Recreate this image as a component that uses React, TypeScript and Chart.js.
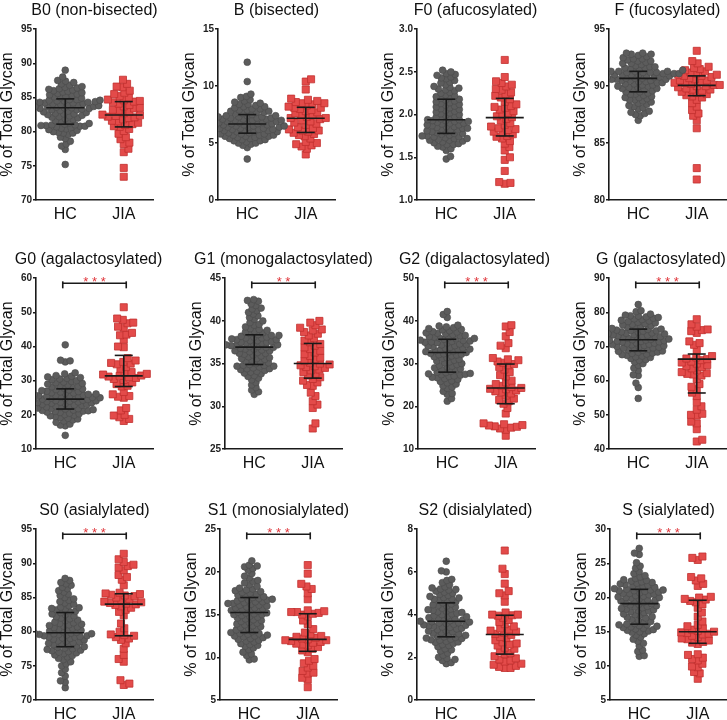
import React, { useEffect, useRef } from "react";
import { Chart, registerables } from "chart.js";
Chart.register(...registerables);

const FONT = "'Liberation Sans', Arial, Helvetica, sans-serif";
Chart.defaults.font.family = FONT;

const GROUPS = ["HC", "JIA"];
const TITLES = [
  "B0 (non-bisected)", "B (bisected)", "F0 (afucosylated)", "F (fucosylated)",
  "G0 (agalactosylated)", "G1 (monogalactosylated)", "G2 (digalactosylated)", "G (galactosylated)",
  "S0 (asialylated)", "S1 (monosialylated)", "S2 (disialylated)", "S (sialylated)",
];
const Y_MIN = [70, 0, 1.0, 80, 10, 25, 10, 40, 70, 5, 0, 5];
const Y_MAX = [95, 15, 3.0, 95, 60, 45, 50, 90, 95, 25, 8, 30];
const Y_STEP = [5, 5, 0.5, 5, 10, 5, 10, 10, 5, 5, 2, 5];
const Y_DEC = [0, 0, 1, 0, 0, 0, 0, 0, 0, 0, 0, 0];
const SIG = ["", "", "", "", "***", "**", "***", "***", "***", "***", "", "***"];

// [Q1, median, Q3]
const HC_STATS = [
  [81.1, 83.5, 84.8], [5.87, 6.68, 7.5], [1.78, 1.94, 2.18], [89.5, 90.68, 91.3],
  [21.7, 24.6, 27.6], [34.9, 36.93, 38.37], [28.0, 32.6, 35.7], [68.75, 71.97, 75.1],
  [77.8, 79.84, 82.8], [12.9, 15.25, 17.0], [2.96, 3.69, 4.55], [16.1, 19.1, 21.2],
];
const JIA_STATS = [
  [80.7, 82.45, 84.4], [5.93, 7.18, 8.14], [1.75, 1.965, 2.19], [89.16, 90.07, 90.9],
  [28.3, 31.4, 37.4], [33.3, 35.02, 37.36], [20.6, 24.27, 29.9], [56.4, 66.3, 67.8],
  [79.4, 84.03, 85.55], [10.7, 12.1, 15.1], [2.15, 3.07, 3.97], [13.3, 15.0, 19.6],
];

const B0_HC = [75.2, 77.4, 77.9, 78.2, 78.6, 79.0, 79.2, 79.6, 79.8, 79.8, 79.9, 80.0, 80.2, 80.3, 80.4, 80.5, 80.6, 80.7, 80.8, 80.8, 80.9, 80.9, 81.0, 81.0, 81.1,
  81.2, 81.3, 81.5, 81.6, 81.8, 81.9, 82.0, 82.1, 82.2, 82.3, 82.4, 82.5, 82.6, 82.6, 82.7, 82.8, 82.9, 83.0, 83.1, 83.2, 83.2, 83.3, 83.4, 83.4, 83.5,
  83.5, 83.6, 83.6, 83.7, 83.7, 83.8, 83.8, 83.9, 84.0, 84.0, 84.1, 84.1, 84.2, 84.2, 84.3, 84.3, 84.4, 84.4, 84.5, 84.5, 84.6, 84.6, 84.7, 84.7, 84.8,
  84.9, 85.0, 85.1, 85.2, 85.3, 85.4, 85.5, 85.6, 85.7, 85.8, 85.9, 86.0, 86.1, 86.2, 86.3, 86.4, 86.5, 86.6, 86.8, 87.0, 87.2, 87.4, 87.5, 88.0, 89.0];
const B0_JIA = [73.4, 74.7, 77.0, 77.5, 78.2, 78.4, 78.9, 79.2, 79.7, 80.1, 80.4, 80.7, 80.8, 81.0, 81.1, 81.3, 81.5, 81.6, 81.8, 82.0, 82.1, 82.2, 82.3, 82.4,
  82.5, 82.7, 82.9, 83.1, 83.2, 83.4, 83.5, 83.7, 83.9, 84.1, 84.3, 84.4, 84.5, 84.6, 84.7, 85.0, 85.2, 85.5, 85.7, 86.0, 86.5, 86.6, 87.0, 87.6];

const B_HC = [3.6, 4.6, 4.8, 4.9, 5.0, 5.0, 5.1, 5.2, 5.2, 5.3, 5.3, 5.4, 5.4, 5.5, 5.5, 5.6, 5.6, 5.6, 5.7, 5.7, 5.7, 5.8, 5.8, 5.8, 5.9,
  5.9, 6.0, 6.0, 6.0, 6.1, 6.1, 6.1, 6.2, 6.2, 6.2, 6.3, 6.3, 6.3, 6.4, 6.4, 6.4, 6.5, 6.5, 6.5, 6.5, 6.6, 6.6, 6.6, 6.7, 6.7,
  6.7, 6.7, 6.8, 6.8, 6.8, 6.9, 6.9, 6.9, 7.0, 7.0, 7.0, 7.0, 7.1, 7.1, 7.1, 7.2, 7.2, 7.2, 7.3, 7.3, 7.3, 7.4, 7.4, 7.4, 7.5,
  7.6, 7.6, 7.7, 7.7, 7.8, 7.8, 7.9, 7.9, 8.0, 8.0, 8.1, 8.2, 8.2, 8.3, 8.4, 8.4, 8.5, 8.6, 8.7, 8.8, 9.0, 9.1, 9.3, 10.4, 12.1];
const B_JIA = [4.0, 4.5, 4.7, 4.8, 4.9, 5.0, 5.1, 5.4, 5.6, 5.7, 5.8, 5.9, 6.0, 6.1, 6.1, 6.2, 6.3, 6.4, 6.6, 6.7, 6.8, 6.9, 7.0, 7.1,
  7.2, 7.2, 7.3, 7.4, 7.5, 7.6, 7.7, 7.8, 7.9, 8.0, 8.1, 8.1, 8.2, 8.3, 8.4, 8.5, 8.5, 8.6, 8.7, 8.8, 8.9, 9.7, 10.4, 10.6];

const F0_HC = [1.48, 1.51, 1.58, 1.60, 1.62, 1.63, 1.65, 1.65, 1.66, 1.67, 1.68, 1.69, 1.70, 1.70, 1.71, 1.72, 1.72, 1.73, 1.74, 1.74, 1.75, 1.75, 1.76, 1.77, 1.78,
  1.78, 1.79, 1.80, 1.80, 1.81, 1.82, 1.82, 1.83, 1.84, 1.84, 1.85, 1.86, 1.86, 1.87, 1.88, 1.88, 1.89, 1.90, 1.90, 1.91, 1.92, 1.92, 1.93, 1.93, 1.94,
  1.94, 1.95, 1.96, 1.97, 1.98, 1.99, 2.00, 2.01, 2.02, 2.03, 2.04, 2.05, 2.06, 2.07, 2.08, 2.09, 2.10, 2.11, 2.12, 2.13, 2.14, 2.15, 2.16, 2.17, 2.18,
  2.19, 2.20, 2.21, 2.22, 2.23, 2.25, 2.26, 2.28, 2.29, 2.30, 2.31, 2.32, 2.33, 2.35, 2.37, 2.38, 2.40, 2.42, 2.43, 2.44, 2.46, 2.47, 2.48, 2.50, 2.52];
const F0_JIA = [1.19, 1.20, 1.21, 1.34, 1.47, 1.50, 1.58, 1.62, 1.66, 1.69, 1.72, 1.74, 1.75, 1.77, 1.79, 1.80, 1.82, 1.83, 1.84, 1.86, 1.88, 1.90, 1.93, 1.95,
  1.97, 1.98, 2.00, 2.02, 2.04, 2.06, 2.08, 2.09, 2.10, 2.12, 2.15, 2.18, 2.20, 2.22, 2.24, 2.26, 2.29, 2.30, 2.33, 2.35, 2.37, 2.39, 2.44, 2.64];

const F_HC = [87.0, 87.4, 87.5, 87.6, 87.7, 87.8, 88.0, 88.1, 88.2, 88.3, 88.4, 88.5, 88.6, 88.7, 88.8, 88.8, 88.9, 89.0, 89.0, 89.1, 89.2, 89.3, 89.3, 89.4, 89.5,
  89.5, 89.6, 89.7, 89.7, 89.8, 89.8, 89.9, 89.9, 90.0, 90.0, 90.1, 90.1, 90.2, 90.2, 90.3, 90.3, 90.4, 90.4, 90.5, 90.5, 90.5, 90.6, 90.6, 90.6, 90.7,
  90.7, 90.7, 90.8, 90.8, 90.8, 90.9, 90.9, 90.9, 91.0, 91.0, 91.0, 91.0, 91.1, 91.1, 91.1, 91.1, 91.2, 91.2, 91.2, 91.2, 91.3, 91.3, 91.3, 91.3, 91.3,
  91.4, 91.4, 91.5, 91.5, 91.6, 91.6, 91.7, 91.7, 91.8, 91.9, 92.0, 92.0, 92.1, 92.2, 92.2, 92.3, 92.4, 92.4, 92.5, 92.6, 92.7, 92.8, 92.8, 92.9, 92.9];
const F_JIA = [81.8, 82.8, 86.3, 87.0, 87.4, 87.6, 87.9, 88.2, 88.5, 88.8, 89.0, 89.1, 89.2, 89.3, 89.4, 89.5, 89.6, 89.7, 89.7, 89.8, 89.9, 90.0, 90.0, 90.1,
  90.1, 90.2, 90.3, 90.3, 90.4, 90.5, 90.5, 90.6, 90.7, 90.8, 90.9, 90.9, 91.0, 91.0, 91.1, 91.2, 91.3, 91.4, 91.5, 91.6, 91.7, 92.0, 92.2, 93.1];

const G0_HC = [14.0, 16.8, 17.0, 17.3, 17.8, 18.2, 18.5, 18.8, 19.0, 19.2, 19.5, 19.7, 19.9, 20.1, 20.3, 20.5, 20.7, 20.8, 21.0, 21.1, 21.2, 21.3, 21.4, 21.5, 21.7,
  21.8, 21.9, 22.0, 22.2, 22.3, 22.5, 22.6, 22.8, 22.9, 23.0, 23.1, 23.3, 23.4, 23.5, 23.6, 23.7, 23.8, 23.9, 24.0, 24.1, 24.2, 24.3, 24.4, 24.5, 24.6,
  24.7, 24.8, 24.9, 25.0, 25.1, 25.2, 25.3, 25.4, 25.5, 25.6, 25.7, 25.8, 25.9, 26.0, 26.1, 26.3, 26.4, 26.5, 26.7, 26.8, 26.9, 27.1, 27.3, 27.4, 27.6,
  27.8, 28.0, 28.2, 28.4, 28.6, 28.8, 29.0, 29.2, 29.4, 29.6, 29.8, 30.0, 30.3, 30.5, 30.7, 30.9, 31.1, 31.3, 31.5, 32.0, 32.3, 35.5, 35.8, 36.0, 40.5];
const G0_JIA = [18.2, 18.8, 19.3, 19.8, 20.0, 21.3, 22.0, 25.0, 25.3, 25.5, 26.0, 26.7, 28.3, 28.5, 29.0, 29.5, 30.2, 30.5, 30.8, 31.0, 31.2, 31.4,
  31.5, 31.8, 32.0, 32.3, 32.5, 33.5, 34.0, 34.8, 35.0, 35.2, 35.5, 35.9, 36.6, 39.8, 40.0, 42.0, 43.3, 43.5, 44.0, 45.5, 45.8, 46.8, 47.0, 47.8, 48.2, 51.5];

const G1_HC = [31.4, 31.7, 31.9, 32.2, 32.5, 32.8, 33.1, 33.3, 33.5, 33.6, 33.8, 33.9, 34.0, 34.1, 34.2, 34.3, 34.4, 34.4, 34.5, 34.6, 34.7, 34.7, 34.8, 34.8, 34.9,
  35.0, 35.1, 35.2, 35.3, 35.4, 35.5, 35.6, 35.6, 35.7, 35.8, 35.9, 36.0, 36.1, 36.2, 36.2, 36.3, 36.4, 36.5, 36.5, 36.6, 36.7, 36.7, 36.8, 36.9, 36.9,
  37.0, 37.0, 37.1, 37.1, 37.2, 37.2, 37.3, 37.4, 37.4, 37.5, 37.5, 37.6, 37.7, 37.7, 37.8, 37.8, 37.9, 38.0, 38.0, 38.1, 38.1, 38.2, 38.3, 38.3, 38.4,
  38.5, 38.6, 38.7, 38.8, 38.9, 39.0, 39.1, 39.3, 39.5, 39.6, 39.8, 40.0, 40.2, 40.4, 40.6, 40.8, 41.0, 41.2, 41.4, 41.5, 41.8, 42.0, 42.3, 42.4, 42.5];
const G1_JIA = [27.4, 28.0, 29.8, 30.2, 30.6, 31.2, 31.6, 32.4, 32.5, 32.8, 33.0, 33.2, 33.4, 33.6, 33.8, 34.0, 34.2, 34.3, 34.5, 34.6, 34.7, 34.8, 34.9, 35.0,
  35.1, 35.3, 35.5, 35.7, 35.9, 36.1, 36.3, 36.5, 36.7, 36.9, 37.1, 37.3, 37.5, 37.7, 38.0, 38.3, 38.5, 38.7, 38.9, 39.0, 39.2, 39.5, 39.8, 40.0];

const G2_HC = [21.2, 21.8, 22.8, 23.0, 23.5, 24.2, 24.5, 24.8, 25.2, 25.5, 25.8, 26.0, 26.3, 26.5, 26.7, 26.8, 27.0, 27.1, 27.3, 27.4, 27.5, 27.6, 27.7, 27.9, 28.0,
  28.2, 28.4, 28.6, 28.8, 29.0, 29.2, 29.4, 29.6, 29.8, 30.0, 30.2, 30.4, 30.6, 30.8, 31.0, 31.2, 31.4, 31.6, 31.8, 32.0, 32.1, 32.2, 32.3, 32.4, 32.6,
  32.7, 32.8, 32.9, 33.0, 33.2, 33.3, 33.4, 33.6, 33.7, 33.8, 34.0, 34.1, 34.2, 34.4, 34.5, 34.6, 34.8, 34.9, 35.0, 35.1, 35.2, 35.3, 35.4, 35.5, 35.7,
  35.8, 35.9, 36.0, 36.1, 36.2, 36.3, 36.5, 36.6, 36.8, 37.0, 37.1, 37.2, 37.4, 37.5, 37.7, 37.9, 38.0, 38.2, 38.4, 38.6, 38.8, 39.0, 40.8, 41.5, 42.2];
const G2_JIA = [13.1, 14.5, 14.8, 15.0, 15.2, 15.3, 15.5, 15.6, 15.8, 16.0, 18.3, 19.6, 20.6, 21.2, 21.5, 21.8, 22.5, 23.0, 23.3, 23.5, 23.7, 24.0, 24.1, 24.3,
  24.5, 24.8, 25.2, 25.6, 26.0, 27.0, 27.3, 28.0, 28.6, 29.2, 29.6, 29.9, 30.2, 30.5, 30.8, 31.0, 31.3, 33.6, 34.2, 34.8, 36.4, 37.4, 38.7, 39.0];

const G_HC = [54.8, 58.0, 59.3, 61.5, 61.7, 63.0, 63.7, 64.5, 65.0, 65.5, 66.0, 66.2, 66.5, 66.8, 67.0, 67.2, 67.4, 67.6, 67.8, 68.0, 68.1, 68.3, 68.4, 68.6, 68.7,
  68.9, 69.0, 69.2, 69.3, 69.5, 69.6, 69.8, 69.9, 70.0, 70.2, 70.3, 70.5, 70.6, 70.7, 70.9, 71.0, 71.1, 71.3, 71.4, 71.5, 71.6, 71.7, 71.8, 71.9, 72.0,
  72.1, 72.2, 72.3, 72.5, 72.6, 72.7, 72.8, 72.9, 73.0, 73.2, 73.3, 73.4, 73.5, 73.7, 73.8, 73.9, 74.0, 74.2, 74.3, 74.5, 74.6, 74.7, 74.8, 75.0, 75.1,
  75.3, 75.5, 75.7, 75.9, 76.1, 76.3, 76.5, 76.7, 76.9, 77.1, 77.3, 77.5, 77.7, 77.9, 78.1, 78.3, 78.5, 78.7, 78.9, 79.0, 79.2, 79.5, 80.2, 80.5, 82.3];
const G_JIA = [42.2, 42.7, 45.8, 47.5, 48.0, 49.8, 50.0, 50.3, 51.5, 52.5, 53.7, 55.5, 56.5, 57.5, 58.2, 59.0, 60.5, 61.5, 61.8, 62.0, 62.2, 62.5, 63.0, 63.6,
  64.0, 64.3, 64.6, 65.0, 65.3, 65.6, 66.0, 66.3, 66.5, 66.8, 67.2, 69.0, 70.5, 71.0, 71.5, 74.0, 74.5, 74.8, 75.0, 75.8, 76.5, 78.0];

const S0_HC = [71.8, 72.6, 72.8, 73.5, 74.0, 74.5, 75.0, 75.3, 75.6, 75.9, 76.1, 76.3, 76.5, 76.6, 76.8, 76.9, 77.0, 77.1, 77.2, 77.3, 77.4, 77.5, 77.6, 77.7, 77.8,
  77.9, 78.0, 78.1, 78.2, 78.3, 78.4, 78.5, 78.6, 78.7, 78.8, 78.9, 79.0, 79.1, 79.2, 79.2, 79.3, 79.4, 79.4, 79.5, 79.6, 79.6, 79.7, 79.7, 79.8, 79.8,
  79.9, 80.0, 80.1, 80.2, 80.3, 80.4, 80.5, 80.6, 80.7, 80.8, 80.9, 81.0, 81.1, 81.2, 81.3, 81.4, 81.6, 81.7, 81.9, 82.0, 82.2, 82.3, 82.5, 82.6, 82.8,
  82.9, 83.0, 83.2, 83.3, 83.4, 83.5, 83.6, 83.8, 84.0, 84.2, 84.4, 84.6, 84.8, 85.0, 85.3, 85.5, 85.8, 86.0, 86.3, 86.5, 86.8, 87.0, 87.2, 87.5, 87.8];
const S0_JIA = [72.2, 72.4, 72.9, 75.6, 76.0, 76.6, 77.5, 78.3, 78.8, 79.0, 79.2, 79.4, 79.5, 79.6, 80.0, 80.5, 81.2, 82.4, 82.9, 83.2, 83.5, 83.7, 83.9, 84.0,
  84.1, 84.2, 84.3, 84.4, 84.6, 84.8, 85.0, 85.2, 85.3, 85.4, 85.5, 85.6, 85.7, 86.8, 87.6, 88.0, 88.3, 89.0, 89.4, 89.6, 89.8, 90.2, 90.6, 91.4];

const S1_HC = [9.7, 9.8, 10.2, 10.4, 10.6, 10.9, 11.1, 11.3, 11.4, 11.5, 11.6, 11.8, 11.9, 12.0, 12.1, 12.2, 12.3, 12.4, 12.5, 12.5, 12.6, 12.7, 12.8, 12.8, 12.9,
  13.0, 13.1, 13.2, 13.3, 13.4, 13.5, 13.6, 13.7, 13.8, 13.9, 14.0, 14.1, 14.2, 14.3, 14.4, 14.5, 14.6, 14.7, 14.8, 14.9, 15.0, 15.0, 15.1, 15.2, 15.2,
  15.3, 15.4, 15.5, 15.5, 15.6, 15.7, 15.8, 15.8, 15.9, 16.0, 16.1, 16.1, 16.2, 16.3, 16.3, 16.4, 16.5, 16.5, 16.6, 16.7, 16.7, 16.8, 16.9, 16.9, 17.0,
  17.1, 17.2, 17.3, 17.4, 17.5, 17.6, 17.7, 17.8, 17.9, 18.0, 18.1, 18.3, 18.5, 18.7, 18.9, 19.0, 19.3, 19.5, 19.8, 20.2, 20.4, 20.6, 20.7, 20.8, 21.3];
const S1_JIA = [6.5, 7.4, 7.6, 8.1, 8.2, 8.4, 8.8, 9.0, 9.3, 9.6, 9.8, 10.6, 10.8, 11.0, 11.2, 11.4, 11.5, 11.6, 11.7, 11.8, 11.9, 12.0, 12.0, 12.1,
  12.2, 12.3, 12.4, 12.5, 12.7, 12.9, 13.3, 13.9, 14.3, 14.8, 15.0, 15.1, 15.2, 15.3, 15.3, 15.4, 15.5, 16.8, 17.5, 18.0, 18.3, 18.6, 19.8, 20.8];

const S2_HC = [1.7, 1.75, 1.85, 1.9, 1.95, 2.0, 2.1, 2.2, 2.3, 2.35, 2.4, 2.5, 2.55, 2.6, 2.65, 2.7, 2.72, 2.75, 2.8, 2.82, 2.85, 2.88, 2.9, 2.93, 2.96,
  3.0, 3.03, 3.06, 3.1, 3.13, 3.16, 3.2, 3.23, 3.26, 3.3, 3.33, 3.36, 3.4, 3.42, 3.45, 3.48, 3.5, 3.52, 3.55, 3.58, 3.6, 3.62, 3.65, 3.67, 3.69,
  3.72, 3.75, 3.78, 3.8, 3.83, 3.86, 3.9, 3.93, 3.96, 4.0, 4.03, 4.06, 4.1, 4.13, 4.16, 4.2, 4.23, 4.26, 4.3, 4.35, 4.4, 4.43, 4.46, 4.5, 4.55,
  4.6, 4.65, 4.7, 4.72, 4.75, 4.78, 4.8, 4.85, 4.9, 4.95, 5.0, 5.05, 5.1, 5.15, 5.18, 5.2, 5.25, 5.3, 5.4, 5.5, 5.6, 5.65, 6.0, 6.05, 6.5];
const S2_JIA = [1.5, 1.5, 1.55, 1.6, 1.65, 1.7, 1.8, 1.85, 1.9, 1.95, 2.05, 2.15, 2.2, 2.3, 2.4, 2.45, 2.55, 2.6, 2.65, 2.7, 2.8, 2.9, 2.95, 3.05,
  3.1, 3.15, 3.2, 3.25, 3.3, 3.35, 3.45, 3.55, 3.65, 3.75, 3.85, 3.95, 3.97, 4.0, 4.0, 4.1, 4.6, 4.9, 5.0, 5.1, 5.45, 5.9, 6.15, 7.0];

const S_HC = [11.4, 11.5, 12.1, 12.3, 12.9, 13.3, 13.6, 13.9, 14.2, 14.5, 14.7, 14.9, 15.0, 15.1, 15.2, 15.3, 15.4, 15.5, 15.6, 15.7, 15.8, 15.9, 16.0, 16.0, 16.1,
  16.2, 16.4, 16.5, 16.7, 16.8, 17.0, 17.1, 17.2, 17.4, 17.5, 17.6, 17.8, 17.9, 18.0, 18.1, 18.2, 18.3, 18.4, 18.5, 18.6, 18.7, 18.8, 18.9, 19.0, 19.1,
  19.2, 19.3, 19.4, 19.5, 19.6, 19.7, 19.8, 19.9, 20.0, 20.0, 20.1, 20.2, 20.3, 20.4, 20.5, 20.6, 20.6, 20.7, 20.8, 20.9, 21.0, 21.0, 21.1, 21.1, 21.2,
  21.3, 21.4, 21.5, 21.6, 21.7, 21.8, 21.9, 22.0, 22.1, 22.2, 22.3, 22.4, 22.5, 22.6, 22.8, 23.0, 23.2, 23.5, 23.8, 24.3, 24.6, 25.1, 26.3, 26.5, 27.2];
const S_JIA = [8.1, 8.9, 9.1, 9.8, 9.9, 10.3, 10.8, 11.0, 11.2, 11.6, 11.7, 13.2, 13.4, 13.5, 13.7, 13.9, 14.0, 14.2, 14.4, 14.6, 14.7, 14.8, 14.9, 15.0,
  15.1, 15.3, 15.5, 15.8, 16.0, 16.5, 17.2, 17.8, 18.5, 19.0, 19.3, 19.5, 19.7, 19.8, 20.0, 20.1, 21.7, 22.0, 22.5, 22.8, 23.0, 25.5, 25.8, 26.0];

const HC_VALUES = [B0_HC, B_HC, F0_HC, F_HC, G0_HC, G1_HC, G2_HC, G_HC, S0_HC, S1_HC, S2_HC, S_HC];
const JIA_VALUES = [B0_JIA, B_JIA, F0_JIA, F_JIA, G0_JIA, G1_JIA, G2_JIA, G_JIA, S0_JIA, S1_JIA, S2_JIA, S_JIA];

// layout (pixels)
const AXIS_X = [36, 218, 417, 609, 36, 225, 418, 609, 36, 220, 417, 610];
const RIGHT_W = [36, 36, 36, 36, 24, 36, 32, 23, 36, 36, 36, 36];
const ROW_TOP = [0, 249, 500];
const Y_AXIS_W = 36;
const PLOT_W = 117;
const CANVAS_H = 240;
const SWARM_D = [5.0, 5.8];
const INK = "#1a1a1a";
const STAR_RED = "#e0353a";

function swarm(pix: number[], d: number): number[] {
  const order = pix.map((_, i) => i).sort((a, b) => pix[b] - pix[a]);
  const placed: { x: number; y: number }[] = [];
  const out: number[] = new Array(pix.length).fill(0);
  let flip = 1;
  for (const i of order) {
    const y = pix[i];
    const near = placed.filter((p) => Math.abs(p.y - y) < d);
    const cands = [0];
    for (const p of near) {
      const dx = Math.sqrt(d * d - (p.y - y) * (p.y - y));
      cands.push(p.x + dx, p.x - dx);
    }
    cands.sort((a, b) => Math.abs(a) - Math.abs(b) || (a - b) * flip);
    let best = 0;
    for (const c of cands) {
      if (near.every((p) => (p.x - c) ** 2 + (p.y - y) ** 2 >= d * d - 1e-6)) {
        best = c;
        break;
      }
    }
    flip = -flip;
    placed.push({ x: best, y });
    out[i] = best;
  }
  return out;
}

function Panel({ idx }: { idx: number }) {
  const ref = useRef<HTMLCanvasElement>(null);
  const row = Math.floor(idx / 4);
  const left = AXIS_X[idx] - Y_AXIS_W;
  const top = ROW_TOP[row];
  const rightW = RIGHT_W[idx];
  const canvasW = Y_AXIS_W + PLOT_W + rightW;

  useEffect(() => {
    const hc = HC_VALUES[idx];
    const jia = JIA_VALUES[idx];
    const yMin = Y_MIN[idx];
    const yMax = Y_MAX[idx];

    const statsPlugin = {
      id: "stats" + idx,
      afterDatasetsDraw(chart: any) {
        const { ctx } = chart;
        const xs = chart.scales.x;
        const ys = chart.scales.y;
        ctx.save();
        ctx.strokeStyle = INK;
        ctx.lineWidth = 1.6;
        const line = (x1: number, y1: number, x2: number, y2: number) => {
          ctx.beginPath();
          ctx.moveTo(x1, y1);
          ctx.lineTo(x2, y2);
          ctx.stroke();
        };
        [HC_STATS[idx], JIA_STATS[idx]].forEach((st, g) => {
          const cx = xs.getPixelForValue(g);
          const y1 = ys.getPixelForValue(st[0]);
          const ym = ys.getPixelForValue(st[1]);
          const y3 = ys.getPixelForValue(st[2]);
          line(cx - 19, ym, cx + 19, ym);
          line(cx, y1, cx, y3);
          line(cx - 9, y1, cx + 9, y1);
          line(cx - 9, y3, cx + 9, y3);
        });
        const sig = SIG[idx];
        if (sig) {
          const yb = ys.getPixelForValue(yMax - 0.03 * (yMax - yMin));
          const x0 = xs.getPixelForValue(0) - 2.5;
          const x1 = xs.getPixelForValue(1) + 2.5;
          line(x0, yb, x1, yb);
          line(x0, yb - 2, x0, yb + 5);
          line(x1, yb - 2, x1, yb + 5);
          ctx.fillStyle = STAR_RED;
          ctx.font = `13px ${FONT}`;
          ctx.textAlign = "center";
          ctx.textBaseline = "middle";
          ctx.fillText(sig.split("").join(" "), (x0 + x1) / 2, yb - 1);
        }
        ctx.restore();
      },
    };

    const chart = new Chart(ref.current as HTMLCanvasElement, {
      type: "scatter",
      data: {
        datasets: [
          {
            data: hc.map((v) => ({ x: 0, y: v })),
            pointStyle: "circle",
            pointRadius: 3.4,
            pointHoverRadius: 3.4,
            backgroundColor: "#5c5c5c",
            borderColor: "#4a4a4a",
            borderWidth: 0.6,
          },
          {
            data: jia.map((v) => ({ x: 1, y: v })),
            pointStyle: "rect",
            pointRadius: 5,
            pointHoverRadius: 5,
            backgroundColor: "#e34b4a",
            borderColor: "#c2302e",
            borderWidth: 0.8,
          },
        ],
      },
      options: {
        animation: false,
        responsive: false,
        maintainAspectRatio: false,
        events: [],
        layout: { padding: 0 },
        plugins: {
          legend: { display: false },
          tooltip: { enabled: false },
          title: {
            display: true,
            text: TITLES[idx],
            color: "#111",
            font: { size: 16, weight: "normal", lineHeight: 1.2 },
            padding: { top: 1.4, bottom: 8.6 },
          },
        },
        scales: {
          x: {
            type: "linear",
            min: -0.5,
            max: 1.5,
            afterBuildTicks: (s: any) => {
              s.ticks = GROUPS.map((_, i) => ({ value: i }));
            },
            afterFit: (s: any) => {
              s.height = CANVAS_H - 200;
            },
            ticks: {
              callback: (v: any) => GROUPS[v] ?? "",
              color: "#111",
              font: { size: 16 },
              padding: 5,
              autoSkip: false,
              maxRotation: 0,
            },
            grid: { display: false, drawTicks: false },
            border: { display: true, color: INK, width: 1.6 },
          },
          y: {
            type: "linear",
            position: "left",
            min: yMin,
            max: yMax,
            afterFit: (s: any) => {
              s.width = Y_AXIS_W;
            },
            ticks: {
              stepSize: Y_STEP[idx],
              callback: (v: any) => (Y_DEC[idx] ? Number(v).toFixed(Y_DEC[idx]) : String(v)),
              color: "#222",
              font: { size: 10, weight: "bold" },
              padding: 1,
            },
            grid: {
              display: true,
              drawOnChartArea: false,
              drawTicks: true,
              tickLength: 3,
              color: INK,
              lineWidth: 1.5,
            },
            border: { display: true, color: INK, width: 1.6 },
            title: {
              display: true,
              text: "% of Total Glycan",
              color: "#111",
              font: { size: 16, lineHeight: 1 },
              padding: { top: 0, bottom: 0 },
            },
          },
          yRight: {
            type: "linear",
            position: "right",
            display: true,
            afterFit: (s: any) => {
              s.width = rightW;
            },
            ticks: { display: false },
            grid: { display: false, drawTicks: false },
            border: { display: false },
          },
        },
      } as any,
      plugins: [statsPlugin],
    });

    const xs: any = chart.scales.x;
    const ys: any = chart.scales.y;
    const ppu = xs.getPixelForValue(1) - xs.getPixelForValue(0);
    [hc, jia].forEach((vals, g) => {
      const pix = vals.map((v) => ys.getPixelForValue(v));
      const off = swarm(pix, SWARM_D[g]);
      (chart.data.datasets[g] as any).data = vals.map((v, i) => ({ x: g + off[i] / ppu, y: v }));
    });
    chart.update();

    return () => chart.destroy();
  }, [idx, rightW]);

  return (
    <canvas
      ref={ref}
      width={canvasW}
      height={CANVAS_H}
      style={{ position: "absolute", left, top, width: canvasW, height: CANVAS_H }}
    />
  );
}

export default function App() {
  return (
    <div
      style={{
        position: "absolute",
        left: 0,
        top: 0,
        width: 727,
        height: 720,
        overflow: "hidden",
        background: "#fff",
      }}
    >
      {TITLES.map((_, i) => (
        <Panel key={i} idx={i} />
      ))}
    </div>
  );
}
